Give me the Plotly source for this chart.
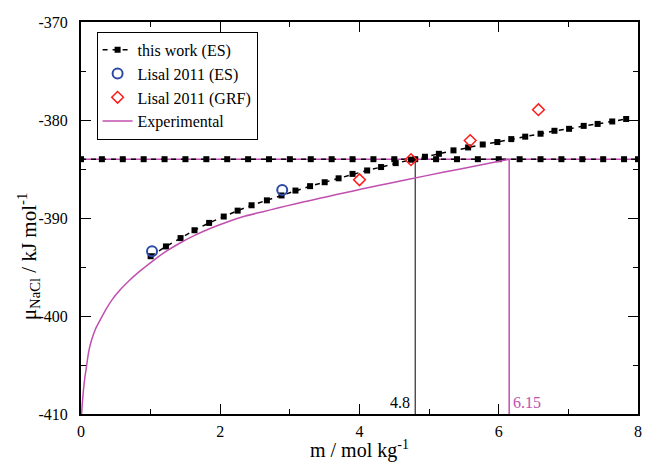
import plotly.graph_objects as go

# ---- data ----
work_x = [1.00, 1.22, 1.43, 1.63, 1.84, 2.05, 2.25, 2.45, 2.67, 2.88, 3.08, 3.29, 3.50, 3.70,
          3.90, 4.11, 4.31, 4.52, 4.74, 4.94, 5.14, 5.35, 5.56, 5.77, 5.98, 6.18, 6.38, 6.60,
          6.80, 7.01, 7.22, 7.42, 7.63, 7.83]
work_y = [-393.9, -392.9, -392.05, -391.25, -390.5, -389.85, -389.25, -388.7, -388.2, -387.7,
          -387.2, -386.75, -386.35, -385.95, -385.5, -385.15, -384.8, -384.4, -384.05, -383.75,
          -383.45, -383.1, -382.8, -382.5, -382.25, -381.95, -381.7, -381.4, -381.1, -380.9,
          -380.6, -380.4, -380.15, -379.9]

solid_x = [0.0, 0.3, 0.6, 0.9, 1.2, 1.5, 1.8, 2.1, 2.4, 2.7, 3.0, 3.3, 3.6, 3.9, 4.2, 4.5, 4.8,
           5.1, 5.4, 5.7, 6.0, 6.3, 6.6, 6.9, 7.2, 7.5, 7.8, 8.0]
solid_y = [-384.0] * len(solid_x)

lisal_es_x = [1.02, 2.89]
lisal_es_y = [-393.4, -387.15]

lisal_grf_x = [4.0, 4.74, 5.59, 6.57]
lisal_grf_y = [-386.1, -384.05, -382.1, -378.95]

exp_x = [0.008, 0.02, 0.036, 0.055, 0.08, 0.11, 0.15, 0.21, 0.28, 0.36, 0.45, 0.56, 0.69,
         0.85, 1.01, 1.2, 1.41, 1.64, 1.88, 2.12, 2.36, 2.6, 2.84, 3.07, 3.31, 3.55, 3.79,
         4.03, 4.27, 4.69, 5.2, 5.7, 6.15]
exp_y = [-410.0, -408.8, -407.5, -406.3, -405.1, -403.65, -402.5, -401.3, -400.35, -399.3,
         -398.3, -397.35, -396.4, -395.4, -394.5, -393.5, -392.6, -391.75, -391.0, -390.35,
         -389.8, -389.38, -388.96, -388.57, -388.18, -387.8, -387.42, -387.05, -386.69, -386.07,
         -385.34, -384.64, -384.0]

exp_level_x = [0.0, 8.0]
exp_level_y = [-384.0, -384.0]

cross_work = 4.8
cross_exp = 6.15
y_bottom = -410.0

x_ticks = [0, 2, 4, 6, 8]
y_ticks = [-410, -400, -390, -380, -370]
y_ticktext = ["-410", "-400", "-390", "-380", "-370"]

MAG = "#c04fb0"
FONT = "Liberation Serif, Times New Roman, serif"

fig = go.Figure()

fig.add_trace(go.Scatter(x=exp_level_x, y=exp_level_y, mode="lines",
                         line=dict(color=MAG, width=1.5), showlegend=False, hoverinfo="skip"))
fig.add_trace(go.Scatter(x=solid_x, y=solid_y, mode="lines+markers",
                         line=dict(color="black", width=1.5, dash="5px,5px"),
                         marker=dict(symbol="square", size=6, color="black"),
                         showlegend=False))
fig.add_trace(go.Scatter(x=[cross_work, cross_work], y=[solid_y[0], y_bottom], mode="lines",
                         line=dict(color="black", width=1), showlegend=False))
fig.add_trace(go.Scatter(x=[cross_exp, cross_exp], y=[exp_level_y[0], y_bottom], mode="lines",
                         line=dict(color=MAG, width=1.5), showlegend=False))

fig.add_trace(go.Scatter(x=work_x, y=work_y, mode="lines+markers", name="this work (ES)",
                         line=dict(color="black", width=1.5, dash="5px,5px"),
                         marker=dict(symbol="square", size=6, color="black")))
fig.add_trace(go.Scatter(x=lisal_es_x, y=lisal_es_y, mode="markers", name="Lisal 2011 (ES)",
                         marker=dict(symbol="circle-open", size=10, color="#2c4aa8",
                                     line=dict(width=2, color="#2c4aa8"))))
fig.add_trace(go.Scatter(x=lisal_grf_x, y=lisal_grf_y, mode="markers", name="Lisal 2011 (GRF)",
                         marker=dict(symbol="diamond-open", size=9, color="#ff1a1a",
                                     line=dict(width=1.5, color="#ff1a1a"))))
fig.add_trace(go.Scatter(x=exp_x, y=exp_y, mode="lines", name="Experimental",
                         line=dict(color=MAG, width=1.5, shape="spline", smoothing=0.6)))

axis_common = dict(showline=True, linewidth=2, linecolor="black", mirror="allticks",
                   ticks="inside", ticklen=10, tickwidth=1.2, tickcolor="black",
                   showgrid=False, zeroline=False,
                   tickfont=dict(family=FONT, size=16, color="black"))

fig.update_xaxes(range=[0, 8], tickvals=x_ticks, ticklabelstandoff=2,
                 minor=dict(ticks="inside", ticklen=5, dtick=1, tick0=0, tickcolor="black", tickwidth=1.2),
                 **axis_common)
fig.update_yaxes(range=[-410, -370], tickvals=y_ticks, ticktext=y_ticktext, ticklabelstandoff=8,
                 minor=dict(ticks="inside", ticklen=5, dtick=5, tick0=-410, tickcolor="black", tickwidth=1.2),
                 **axis_common)

fig.add_annotation(text="4.8", x=cross_work, y=y_bottom, xref="x", yref="y",
                   xanchor="right", yanchor="bottom", xshift=-3, yshift=1, showarrow=False,
                   font=dict(family=FONT, size=16, color="black"))
fig.add_annotation(text="6.15", x=cross_exp, y=y_bottom, xref="x", yref="y",
                   xanchor="left", yanchor="bottom", xshift=2, yshift=1, showarrow=False,
                   font=dict(family=FONT, size=16, color=MAG))

fig.add_annotation(text="m / mol kg<sup>-1</sup>", x=0.5, y=0, xref="paper", yref="paper",
                   xanchor="center", yanchor="top", yshift=-21, showarrow=False,
                   font=dict(family=FONT, size=20, color="black"))
fig.add_annotation(text="μ<sub>NaCl</sub> / kJ mol<sup>-1</sup>", x=0, y=0.40, xref="paper", yref="paper",
                   xanchor="center", yanchor="middle", xshift=-53, textangle=-90, showarrow=False,
                   font=dict(family=FONT, size=21, color="black"))

fig.update_layout(
    width=646, height=462,
    margin=dict(l=81, r=4, t=22, b=48),
    plot_bgcolor="white", paper_bgcolor="white",
    font=dict(family=FONT, color="black"),
    legend=dict(x=0.028, y=0.975, xanchor="left", yanchor="top",
                bgcolor="white", bordercolor="black", borderwidth=1,
                font=dict(family=FONT, size=16, color="black"),
                tracegroupgap=0, itemwidth=30),
)

fig.write_html("out.html")
